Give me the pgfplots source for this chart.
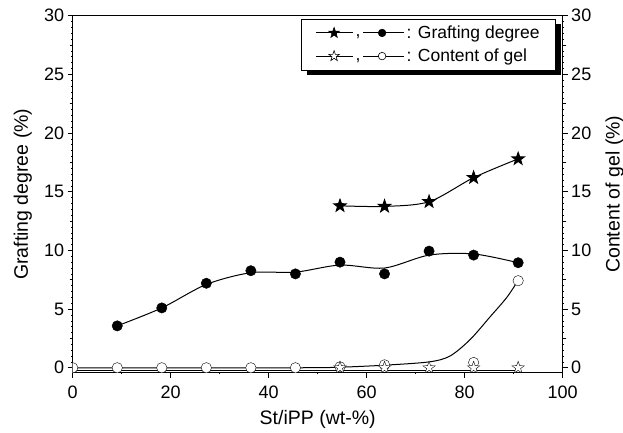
\documentclass[border=0pt]{standalone}
\usepackage{fontspec}
\setmainfont{Liberation Sans}
\usepackage{pgfplots}
\pgfplotsset{compat=1.18}
\usetikzlibrary{shadows}

\pgfdeclareplotmark{fstar}{%
 \pgfpathmoveto{\pgfpointpolar{90}{1.25*\pgfplotmarksize}}%
 \pgfpathlineto{\pgfpointpolar{126}{0.5*\pgfplotmarksize}}%
 \pgfpathlineto{\pgfpointpolar{162}{1.25*\pgfplotmarksize}}%
 \pgfpathlineto{\pgfpointpolar{198}{0.5*\pgfplotmarksize}}%
 \pgfpathlineto{\pgfpointpolar{234}{1.25*\pgfplotmarksize}}%
 \pgfpathlineto{\pgfpointpolar{270}{0.5*\pgfplotmarksize}}%
 \pgfpathlineto{\pgfpointpolar{306}{1.25*\pgfplotmarksize}}%
 \pgfpathlineto{\pgfpointpolar{342}{0.5*\pgfplotmarksize}}%
 \pgfpathlineto{\pgfpointpolar{18}{1.25*\pgfplotmarksize}}%
 \pgfpathlineto{\pgfpointpolar{54}{0.5*\pgfplotmarksize}}%
 \pgfpathclose\pgfusepathqfillstroke}

\newcommand{\legimg}[1]{%
  \begin{pgfscope}
    \pgfsetlinewidth{1pt}\pgfsetstrokecolor{black}%
    \pgfpathmoveto{\pgfqpoint{0pt}{0pt}}\pgfpathlineto{\pgfqpoint{37pt}{0pt}}%
    \pgfpathmoveto{\pgfqpoint{47pt}{0pt}}\pgfpathlineto{\pgfqpoint{88pt}{0pt}}%
    \pgfusepath{stroke}%
  \end{pgfscope}
  \begin{pgfscope}
    \pgftransformshift{\pgfqpoint{18pt}{0pt}}%
    \pgfsetlinewidth{0.6pt}\pgfsetstrokecolor{black}\pgfsetfillcolor{#1}%
    \pgfsetplotmarksize{4.4pt}\pgfuseplotmark{fstar}%
  \end{pgfscope}
  \begin{pgfscope}
    \pgftransformshift{\pgfqpoint{66pt}{0pt}}%
    \pgfsetlinewidth{0.6pt}\pgfsetstrokecolor{black}\pgfsetfillcolor{#1}%
    \pgfsetplotmarksize{3.8pt}\pgfuseplotmark{*}%
  \end{pgfscope}
  \node[inner sep=0pt, anchor=base] at (42pt,-4pt) {,};
}

\pgfplotsset{
  common/.style={
    at={(0,0)}, anchor=south west,
    scale only axis, width=490pt, height=357pt,
    xmin=0, xmax=100, ymin=-0.42, ymax=30,
    ytick={0,5,...,30}, minor y tick num=9,
    extra y ticks={2.5,7.5,12.5,17.5,22.5,27.5},
    extra y tick labels={},
    extra y tick style={major tick length=3pt},
    tick align=outside, major tick length=5pt, minor tick length=1.5pt,
    axis line style={line width=0.8pt}, tick style={black, line width=0.6pt},
    /pgf/number format/assume math mode=true,
    tick label style={font=\fontsize{18}{18}\selectfont},
    xticklabel style={yshift=-5pt},
  }
}

\begin{document}
\begin{tikzpicture}
\useasboundingbox (-72.7pt,-60pt) rectangle (550.3pt,372.7pt);
\begin{axis}[common,
  xtick={0,20,...,100}, minor x tick num=1,
  xtick pos=left, ytick pos=left,
  xlabel={St/iPP (wt-\%)}, ylabel={Grafting degree (\%)},
  every axis x label/.style={at={(axis description cs:0.5,-0.132)}, anchor=center, font=\fontsize{19.5}{20}\selectfont},
  every axis y label/.style={at={(axis description cs:-0.102,0.5)}, anchor=center, rotate=90, font=\fontsize{19.5}{20}\selectfont},
  clip marker paths=true,
  legend cell align=left,
  legend style={at={(axis description cs:0.986,0.992)}, anchor=north east,
    draw=black, line width=0.6pt, fill=white,
    drop shadow={shadow xshift=5pt, shadow yshift=-5pt, fill=black, opacity=1},
    font=\fontsize{17.5}{20}\selectfont, row sep=5pt, inner xsep=14pt, inner ysep=5pt},
]
\addlegendimage{legend image code/.code={\legimg{black}}}
\addlegendentry{: Grafting degree}
\addlegendimage{legend image code/.code={\legimg{white}}}
\addlegendentry{: Content of gel}

% grafting degree curve (circles)
\addplot[black, line width=1pt, smooth, tension=0.5, forget plot] coordinates {
(9.09,3.57) (18.18,5.1) (27.27,7.1) (36.36,8.1) (45.45,8.15) (54.55,8.75) (63.64,8.5) (72.73,9.6) (81.82,9.7) (90.91,8.95)};
\addplot[only marks, mark=*, mark size=5.2pt, black, fill=black, forget plot] coordinates {
(9.09,3.57) (18.18,5.1) (27.27,7.2) (36.36,8.27) (45.45,8.0) (54.55,9.0) (63.64,8.0) (72.73,9.94) (81.82,9.6) (90.91,8.95)};

% grafting degree (stars)
\addplot[black, line width=1pt, smooth, tension=0.5, mark=fstar, mark size=5.2pt, mark options={fill=black}, forget plot] coordinates {
(54.55,13.8) (63.64,13.75) (72.73,14.15) (81.82,16.2) (90.91,17.8)};

% content of gel
\addplot[black, line width=1pt, forget plot] coordinates {(0,-0.2) (90.91,-0.2)};
\addplot[black, line width=1pt, smooth, tension=0.5, forget plot] coordinates {
(0,0) (45.45,0) (54.55,0.05) (63.64,0.22) (72.73,0.5) (77,1.0) (81.1,2.4) (85.2,4.35) (88.6,6.0) (90.91,7.45)};
\addplot[only marks, mark=*, mark size=5.2pt, black, mark options={fill=white}, forget plot] coordinates {
(0,0) (9.09,0) (18.18,0) (27.27,0) (36.36,0) (45.45,0) (54.55,0.08) (63.64,0.25) (81.82,0.45) (90.91,7.42)};
\addplot[only marks, mark=fstar, mark size=5.2pt, black, mark options={fill=white}, forget plot] coordinates {
(54.55,0) (63.64,0) (72.73,0) (81.82,0) (90.91,0)};
\end{axis}
\begin{axis}[common,
  axis x line=none, axis y line*=right,
  ytick pos=right,
  ylabel={Content of gel (\%)},
  every axis y label/.style={at={(axis description cs:1.106,0.5)}, anchor=center, rotate=90, font=\fontsize{19.5}{20}\selectfont},
]
\end{axis}
\end{tikzpicture}
\end{document}
